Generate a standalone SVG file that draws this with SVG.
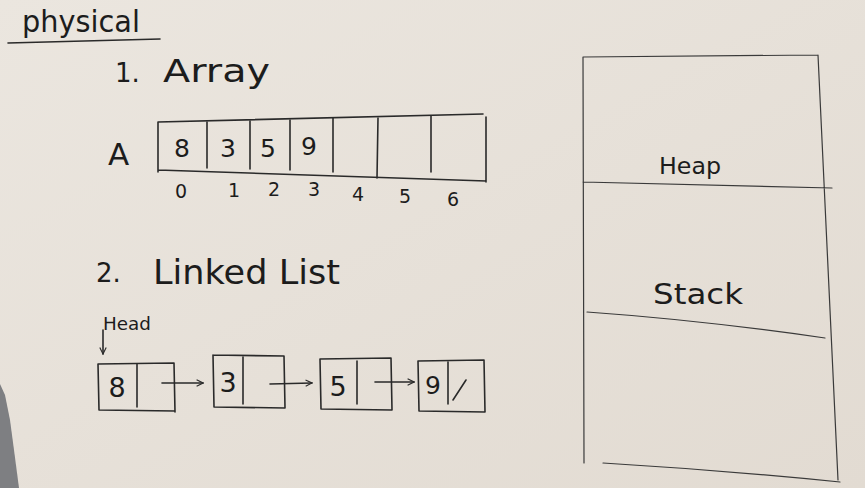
<svg xmlns="http://www.w3.org/2000/svg" width="865" height="488" viewBox="0 0 865 488">
<defs>
<linearGradient id="bg" x1="0" y1="0" x2="1" y2="1">
<stop offset="0" stop-color="#ebe6df"/>
<stop offset="1" stop-color="#e2dbd2"/>
</linearGradient>
<marker id="ah" viewBox="0 0 10 10" refX="9" refY="5" markerWidth="8" markerHeight="8" orient="auto" markerUnits="userSpaceOnUse">
<path d="M1,1 L9,5 L1,9" fill="none" stroke="#2a2a2a" stroke-width="1.4"/>
</marker>
</defs>
<style>
.ink{fill:none;stroke:#2a2a2a;stroke-width:1.6;stroke-linecap:round;stroke-linejoin:round}
.thin{fill:none;stroke:#3a3a3a;stroke-width:1.2;stroke-linecap:round}
.t{font-family:"DejaVu Sans","Liberation Sans",sans-serif;fill:#1c1c1c;font-weight:normal}
</style>
<rect width="865" height="488" fill="url(#bg)"/>
<polygon points="0,384 5,395 10,420 14,450 19,488 0,488" fill="#7e7f82"/>

<g id="title">
<text class="t" x="22" y="32" font-size="30" textLength="118" lengthAdjust="spacingAndGlyphs">physical</text>
<path class="ink" d="M8,43 L160,39"/>
</g>

<g id="array-heading">
<text class="t" x="115" y="82" font-size="26">1.</text>
<text class="t" x="163" y="82" font-size="32" textLength="107" lengthAdjust="spacingAndGlyphs">Array</text>
</g>

<g id="array">
<text class="t" x="108" y="165" font-size="31">A</text>
<path class="ink" d="M158,122 L483,114 M158,170 Q330,176 486,181 M158,122 L158,172 M486,117 L486,182"/>
<path class="ink" d="M207,122 L207,168 M250,121 L250,169 M290,120 L290,170 M333,118 L333,172 M378,118 L377,178 M431,116 L431,172"/>
<g font-size="25" text-anchor="middle">
<text class="t" x="182" y="157">8</text>
<text class="t" x="228" y="157">3</text>
<text class="t" x="268" y="157">5</text>
<text class="t" x="309" y="155">9</text>
</g>
<g font-size="19" text-anchor="middle">
<text class="t" x="181" y="198">0</text>
<text class="t" x="234" y="197">1</text>
<text class="t" x="274" y="196">2</text>
<text class="t" x="314" y="196">3</text>
<text class="t" x="358" y="201">4</text>
<text class="t" x="405" y="203">5</text>
<text class="t" x="453" y="206">6</text>
</g>
</g>

<g id="list-heading">
<text class="t" x="96" y="282" font-size="26">2.</text>
<text class="t" x="153" y="284" font-size="33" textLength="187" lengthAdjust="spacingAndGlyphs">Linked List</text>
</g>

<g id="head">
<text class="t" x="103" y="330" font-size="17" textLength="48" lengthAdjust="spacingAndGlyphs">Head</text>
</g>

<g id="node-8">
<path class="ink" d="M98,364 L174,363 L175,412 M98,364 L99,410 L175,411 M137,364 L137,407"/>
<text class="t" x="117" y="397" font-size="27" text-anchor="middle">8</text>
</g>
<g id="node-3">
<path class="ink" d="M213,355 L284,356 L285,408 M213,355 L214,407 L285,408 M243,357 L243,404"/>
<text class="t" x="228" y="392" font-size="27" text-anchor="middle">3</text>
</g>
<g id="node-5">
<path class="ink" d="M320,359 L391,358 L392,410 M320,359 L321,409 L392,410 M357,361 L357,404"/>
<text class="t" x="338" y="396" font-size="27" text-anchor="middle">5</text>
</g>
<g id="node-9">
<path class="ink" d="M418,361 L484,360 L485,412 M418,361 L419,411 L485,412 M448,362 L448,404 M453,400 L466,380"/>
<text class="t" x="433" y="394" font-size="25" text-anchor="middle">9</text>
</g>

<g id="connectors">
<path class="ink" d="M103,330 L103,354" marker-end="url(#ah)"/>
<path class="ink" d="M162,383 L203,383" marker-end="url(#ah)"/>
<path class="ink" d="M270,384 L312,383" marker-end="url(#ah)"/>
<path class="ink" d="M375,382 L414,382" marker-end="url(#ah)"/>
</g>

<g id="memory">
<path class="thin" d="M583,57 L818,55 M583,57 L584,463 M818,55 L838,480 M583,182 L832,188 M587,312 Q700,320 825,338 M603,463 Q720,470 840,482"/>
<text class="t" x="659" y="174" font-size="23" textLength="62" lengthAdjust="spacingAndGlyphs">Heap</text>
<text class="t" x="653" y="304" font-size="29" textLength="90" lengthAdjust="spacingAndGlyphs">Stack</text>
</g>
</svg>
